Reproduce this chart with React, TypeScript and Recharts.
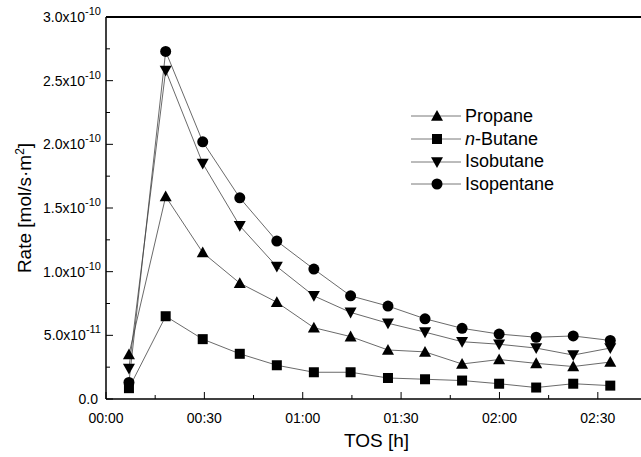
import React from 'react';
import {
  LineChart,
  Line,
  XAxis,
  YAxis,
  ReferenceLine,
} from 'recharts';

// time on stream, minutes
const minutes = [7, 18.2, 29.5, 40.8, 52.1, 63.4, 74.6, 86, 97.3, 108.6, 119.9, 131.2, 142.5, 153.8];

// rates in units of 1e-11 mol/s·m2
const propane = [3.5, 15.9, 11.5, 9.1, 7.6, 5.6, 4.9, 3.85, 3.7, 2.75, 3.1, 2.8, 2.55, 2.9];
const nButane = [0.85, 6.5, 4.7, 3.55, 2.65, 2.1, 2.1, 1.65, 1.55, 1.45, 1.2, 0.9, 1.2, 1.05];
const isobutane = [2.4, 25.8, 18.5, 13.6, 10.4, 8.1, 6.8, 5.95, 5.25, 4.5, 4.3, 4.0, 3.45, 4.0];
const isopentane = [1.3, 27.3, 20.2, 15.8, 12.4, 10.2, 8.1, 7.3, 6.3, 5.55, 5.1, 4.85, 4.95, 4.6];

const xTicks = [0, 15, 30, 45, 60, 75, 90, 105, 120, 135, 150];
const yTicks = [0, 2.5, 5, 7.5, 10, 12.5, 15, 17.5, 20, 22.5, 25, 27.5, 30];

const series = [
  { key: 'propane', name: 'Propane', shape: 'up' },
  { key: 'nButane', name: 'n-Butane', shape: 'square' },
  { key: 'isobutane', name: 'Isobutane', shape: 'down' },
  { key: 'isopentane', name: 'Isopentane', shape: 'circle' },
];

const data = minutes.map((t, i) => ({
  t,
  propane: propane[i],
  nButane: nButane[i],
  isobutane: isobutane[i],
  isopentane: isopentane[i],
}));

const FONT = '"Liberation Sans", Arial, sans-serif';

const Marker = ({ cx, cy, shape }: { cx: number; cy: number; shape: string }) => {
  if (cx == null || cy == null) return null;
  const s = 6;
  if (shape === 'up')
    return <polygon points={`${cx},${cy - s} ${cx - s},${cy + s * 0.8} ${cx + s},${cy + s * 0.8}`} fill="#000" />;
  if (shape === 'down')
    return <polygon points={`${cx},${cy + s} ${cx - s},${cy - s * 0.8} ${cx + s},${cy - s * 0.8}`} fill="#000" />;
  if (shape === 'square')
    return <rect x={cx - 5} y={cy - 5} width={10} height={10} fill="#000" />;
  return <circle cx={cx} cy={cy} r={5.5} fill="#000" />;
};

const fmtTime = (v: number) =>
  `${String(Math.floor(v / 60)).padStart(2, '0')}:${String(v % 60).padStart(2, '0')}`;

const XTick = (props: any) => {
  const { x, y, payload } = props;
  const major = payload.value % 30 === 0;
  const axisY = y - 6;
  return (
    <g>
      <line x1={x} x2={x} y1={axisY} y2={axisY - (major ? 7 : 4)} stroke="#000" strokeWidth={1} />
      {major && (
        <text x={x} y={axisY + 24} textAnchor="middle" fontSize={14} fontFamily={FONT} fill="#000">
          {fmtTime(payload.value)}
        </text>
      )}
    </g>
  );
};

const YTick = (props: any) => {
  const { x, y, payload } = props;
  const v = payload.value;
  const major = v % 5 === 0;
  const axisX = x + 6;
  let label: React.ReactNode = null;
  if (major) {
    if (v === 0) {
      label = '0.0';
    } else if (v < 10) {
      label = (
        <>
          {v.toFixed(1)}x10<tspan dy={-7} fontSize={11}>-11</tspan>
        </>
      );
    } else {
      label = (
        <>
          {(v / 10).toFixed(1)}x10<tspan dy={-7} fontSize={11}>-10</tspan>
        </>
      );
    }
  }
  return (
    <g>
      <line x1={axisX} x2={axisX + (major ? 7 : 4)} y1={y} y2={y} stroke="#000" strokeWidth={1} />
      {major && (
        <text x={axisX - (v === 0 ? 8 : 5)} y={y + 5} textAnchor="end" fontSize={14} fontFamily={FONT} fill="#000">
          {label}
        </text>
      )}
    </g>
  );
};

const LegendBox = () => (
  <div style={{ position: 'absolute', left: 411, top: 105, fontFamily: FONT, fontSize: 18, color: '#000' }}>
    {series.map((s) => (
      <div key={s.key} style={{ display: 'flex', alignItems: 'center', height: 22.7 }}>
        <svg width={50} height={20}>
          <line x1={0} x2={50} y1={10} y2={10} stroke="#555" strokeWidth={0.8} />
          <Marker cx={26} cy={10} shape={s.shape} />
        </svg>
        <span style={{ marginLeft: 4 }}>
          {s.key === 'nButane' ? (
            <>
              <i>n</i>-Butane
            </>
          ) : (
            s.name
          )}
        </span>
      </div>
    ))}
  </div>
);

export default function App() {
  return (
    <div style={{ position: 'absolute', left: 0, top: 0, width: 641, height: 457, overflow: 'hidden', background: '#fff' }}>
      <LineChart width={660} height={457} data={data} margin={{ top: 17, right: 13, bottom: 0, left: 0 }}>
        <XAxis
          dataKey="t"
          type="number"
          domain={[0, 165]}
          ticks={xTicks}
          interval={0}
          tick={<XTick />}
          tickLine={false}
          tickSize={0}
          tickMargin={6}
          height={58}
          axisLine={{ stroke: '#000', strokeWidth: 1.5 }}
          label={{ value: 'TOS [h]', position: 'insideBottom', offset: 10, fontSize: 19, fontFamily: FONT, fill: '#000' }}
        />
        <YAxis
          type="number"
          domain={[0, 30]}
          ticks={yTicks}
          interval={0}
          tick={<YTick />}
          tickLine={false}
          tickSize={0}
          tickMargin={6}
          width={106}
          axisLine={{ stroke: '#000', strokeWidth: 1.5 }}
          label={{
            content: () => (
              <text
                x={31}
                y={208}
                transform="rotate(-90 31 208)"
                textAnchor="middle"
                fontSize={19}
                fontFamily={FONT}
                fill="#000"
              >
                Rate [mol/s·m<tspan dy={-7} fontSize={12}>2</tspan><tspan dy={7}>]</tspan>
              </text>
            ),
          }}
        />
        <ReferenceLine y={30} stroke="#000" strokeWidth={2} />
        <ReferenceLine x={165} stroke="#000" strokeWidth={1.5} />
        {series.map((s) => (
          <Line
            key={s.key}
            dataKey={s.key}
            name={s.name}
            stroke="#444"
            strokeWidth={0.8}
            isAnimationActive={false}
            dot={(p: any) => <Marker key={`${s.key}-${p.index}`} cx={p.cx} cy={p.cy} shape={s.shape} />}
            activeDot={false}
          />
        ))}
      </LineChart>
      <LegendBox />
    </div>
  );
}
